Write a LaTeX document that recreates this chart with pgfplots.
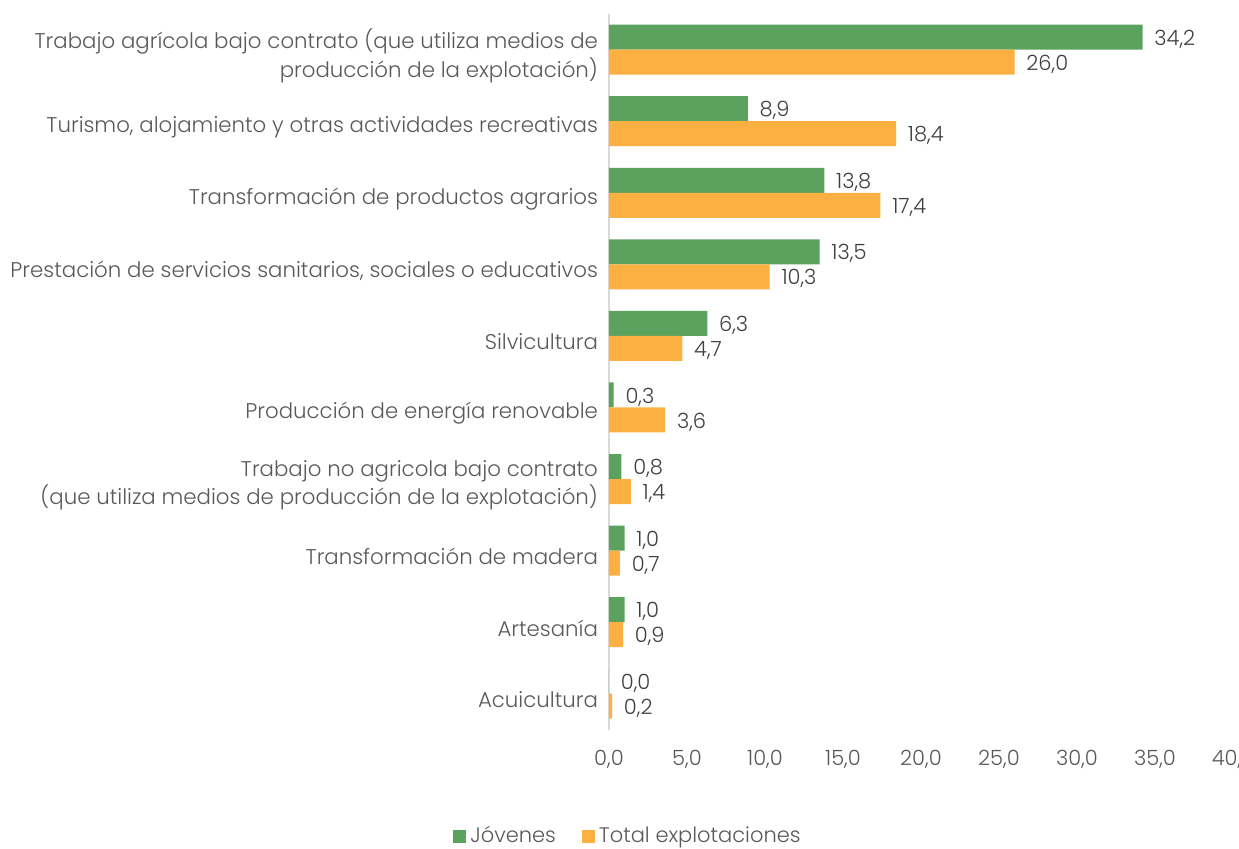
\documentclass[border=0pt]{standalone}
\usepackage{pgfplots}
\pgfplotsset{compat=1.18}
\usepackage{fontspec}
\setmainfont{Poppins}[UprightFont=* Light]

\definecolor{verde}{HTML}{5BA25F}
\definecolor{naranja}{HTML}{FCB041}
\definecolor{texto}{HTML}{595959}
\definecolor{etiq}{HTML}{404040}
\definecolor{eje}{HTML}{D9D9D9}

% categories bottom (0) to top (9)
\pgfplotstableread{
y jov tot
0 0.0 0.2
1 1.0 0.9
2 1.0 0.7
3 0.8 1.4
4 0.3 3.6
5 6.3 4.7
6 13.5 10.3
7 13.8 17.4
8 8.9 18.4
9 34.2 26.0
}\datos

\begin{document}
\begin{tikzpicture}
\begin{axis}[
    at={(0,0)}, anchor=south west,
    scale only axis,
    width=312pt, height=357.8pt,
    xbar, bar width=12.5pt,
    xmin=0, xmax=40, ymin=-0.5, ymax=9.5,
    axis lines=left,
    axis line style={-},
    x axis line style={draw=none},
    y axis line style={draw=eje, line width=0.8pt},
    major tick length=0pt,
    xtick={0,5,...,40},
    xticklabels={{0,0},{5,0},{10,0},{15,0},{20,0},{25,0},{30,0},{35,0},{40,0}},
    xticklabel style={font=\fontsize{10.5}{13}\selectfont, text=texto, yshift=-7pt},
    ytick={0,...,9},
    yticklabels={
      {Acuicultura},
      {Artesanía},
      {Transformación de madera},
      {Trabajo no agricola bajo contrato\\(que utiliza medios de producción de la explotación)},
      {Producción de energía renovable},
      {Silvicultura},
      {Prestación de servicios sanitarios, sociales o educativos},
      {Transformación de productos agrarios},
      {Turismo, alojamiento y otras actividades recreativas},
      {Trabajo agrícola bajo contrato (que utiliza medios de\\producción de la explotación)}},
    yticklabel style={font=\fontsize{10.65}{14.2}\selectfont, text=texto, align=right,
      xshift=-2pt, yshift=-3pt},
    nodes near coords={\pgfmathprintnumber[fixed,fixed zerofill,precision=1,use comma,assume math mode=true]{\pgfplotspointmeta}},
    every node near coord/.append style={font=\fontsize{10.5}{13}\selectfont, text=etiq, xshift=2.4pt, yshift=-1pt},
    legend style={at={(0.032,-0.149)}, anchor=center, draw=none, fill=none,
      legend columns=2, font=\fontsize{10.5}{13}\selectfont, text=texto,
      /tikz/every even column/.append style={column sep=11pt}},
    legend image code/.code={\fill[#1] (0pt,-3.25pt) rectangle (6.5pt,3.25pt);},
  ]
  \addplot[draw=none, fill=verde, bar shift=6.25pt] table[x=jov, y=y] {\datos};
  \addlegendentry{Jóvenes}
  \addplot[draw=none, fill=naranja, bar shift=-6.25pt] table[x=tot, y=y] {\datos};
  \addlegendentry{Total explotaciones}
\end{axis}
\pgfresetboundingbox
\useasboundingbox (-304.5pt,-59.25pt) rectangle (315pt,364.75pt);
\end{tikzpicture}
\end{document}
